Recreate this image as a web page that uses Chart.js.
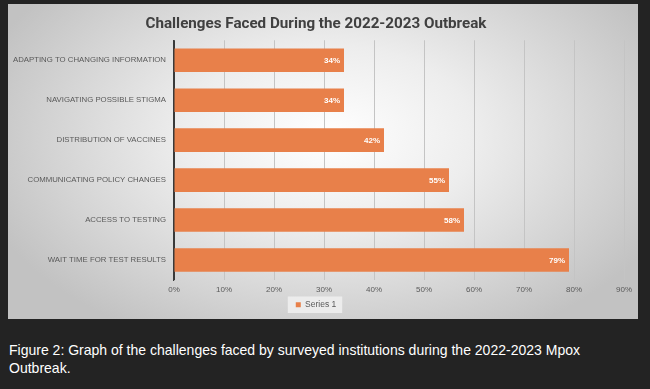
<!DOCTYPE html>
<html>
<head>
<meta charset="utf-8">
<script src="https://cdn.jsdelivr.net/npm/chart.js@4/dist/chart.umd.min.js"></script>
<style>
  html, body { margin: 0; padding: 0; }
  body { width: 650px; height: 389px; background: #232323; position: relative; overflow: hidden; }
  #panel {
    position: absolute; left: 8px; top: 4px; width: 630px; height: 315px;
    background: radial-gradient(ellipse 58% 72% at 51% 42%, #ffffff 0%, #ededed 40%, #d2d2d2 78%, #c2c2c2 100%);
  }
  #panel canvas { display: block; }
  #caption {
    position: absolute; left: 9px; top: 341px;
    color: #ffffff; font-family: "Liberation Sans", Arial, sans-serif;
    font-size: 15px; line-height: 18px; white-space: nowrap;
    transform-origin: 0 0;
  }
</style>
</head>
<body>
<div id="panel"><canvas id="c" width="630" height="315"></canvas></div>
<div id="caption"><span id="cap1">Figure 2: Graph of the challenges faced by surveyed institutions during the 2022-2023 Mpox</span><br>Outbreak.</div>
<script>
const categories = [
  "ADAPTING TO CHANGING INFORMATION",
  "NAVIGATING POSSIBLE STIGMA",
  "DISTRIBUTION OF VACCINES",
  "COMMUNICATING POLICY CHANGES",
  "ACCESS TO TESTING",
  "WAIT TIME FOR TEST RESULTS"
];
const series1 = [34, 34, 42, 55, 58, 79];
const seriesName = "Series 1";
const xTicks = [0, 10, 20, 30, 40, 50, 60, 70, 80, 90];
const chartTitle = "Challenges Faced During the 2022-2023 Outbreak";

const barColor = "#E8804A";
const textGray = "#595959";

// condense the caption horizontally to the reference line width
(function () {
  const cap = document.getElementById("caption");
  const w = document.getElementById("cap1").getBoundingClientRect().width;
  if (w > 0) cap.style.transform = "scaleX(" + (571 / w) + ")";
})();

const dataLabels = {
  id: "dataLabels",
  afterDatasetsDraw(chart) {
    const ctx = chart.ctx;
    const meta = chart.getDatasetMeta(0);
    ctx.save();
    ctx.fillStyle = "#ffffff";
    ctx.font = "bold 8px 'Liberation Sans', Arial, sans-serif";
    ctx.textAlign = "right";
    ctx.textBaseline = "middle";
    meta.data.forEach((bar, i) => {
      ctx.fillText(chart.data.datasets[0].data[i] + "%", bar.x - 4, bar.y + 0.5);
    });
    ctx.restore();
  }
};

const legendBg = {
  id: "legendBg",
  beforeDraw(chart) {
    const lg = chart.legend;
    if (!lg || !lg.legendHitBoxes || !lg.legendHitBoxes.length) return;
    const hb = lg.legendHitBoxes[0];
    const ctx = chart.ctx;
    ctx.save();
    ctx.fillStyle = "rgba(238,238,238,0.9)";
    ctx.fillRect(hb.left - 8, hb.top - 4, hb.width + 14, hb.height + 8);
    ctx.restore();
  }
};

new Chart(document.getElementById("c"), {
  type: "bar",
  data: {
    labels: categories,
    datasets: [{
      label: seriesName,
      data: series1,
      backgroundColor: barColor,
      borderWidth: 0,
      categoryPercentage: 1.0,
      barPercentage: 0.59
    }]
  },
  plugins: [dataLabels, legendBg],
  options: {
    indexAxis: "y",
    responsive: false,
    animation: false,
    devicePixelRatio: 1,
    layout: { padding: { left: 0, right: 14, top: 0, bottom: 0 } },
    plugins: {
      title: {
        display: true,
        text: chartTitle,
        color: "#404040",
        font: { family: "Roboto, 'Liberation Sans', sans-serif", size: 15.2, weight: "bold" },
        padding: { top: 11, bottom: 7 }
      },
      legend: {
        display: true,
        position: "bottom",
        labels: {
          color: textGray,
          font: { family: "'Liberation Sans', Arial, sans-serif", size: 8.5 },
          boxWidth: 5, boxHeight: 5, padding: 4
        }
      },
      tooltip: { enabled: false }
    },
    scales: {
      x: {
        min: 0, max: 90,
        afterBuildTicks(scale) { scale.ticks = xTicks.map(v => ({ value: v })); },
        afterFit(scale) {
          const lgH = scale.chart.legend ? scale.chart.legend.height : 0;
          scale.height = Math.max(10, 315 - lgH - 276);
        },
        ticks: {
          color: textGray,
          font: { family: "'Liberation Sans', Arial, sans-serif", size: 8 },
          padding: 5,
          callback: v => v + "%"
        },
        grid: {
          drawTicks: false,
          color: ctx => (ctx.tick && ctx.tick.value === 0) ? "#3a3a3a" : "#c4c4c4",
          lineWidth: 1
        },
        border: { display: false }
      },
      y: {
        afterFit(scale) { scale.width = 166; },
        ticks: {
          color: textGray,
          font: { family: "'Liberation Sans', Arial, sans-serif", size: 7.8 },
          padding: 8
        },
        grid: { display: false, drawTicks: false },
        border: { display: true, color: "#3a3a3a", width: 1.2 }
      }
    }
  }
});
</script>
</body>
</html>
